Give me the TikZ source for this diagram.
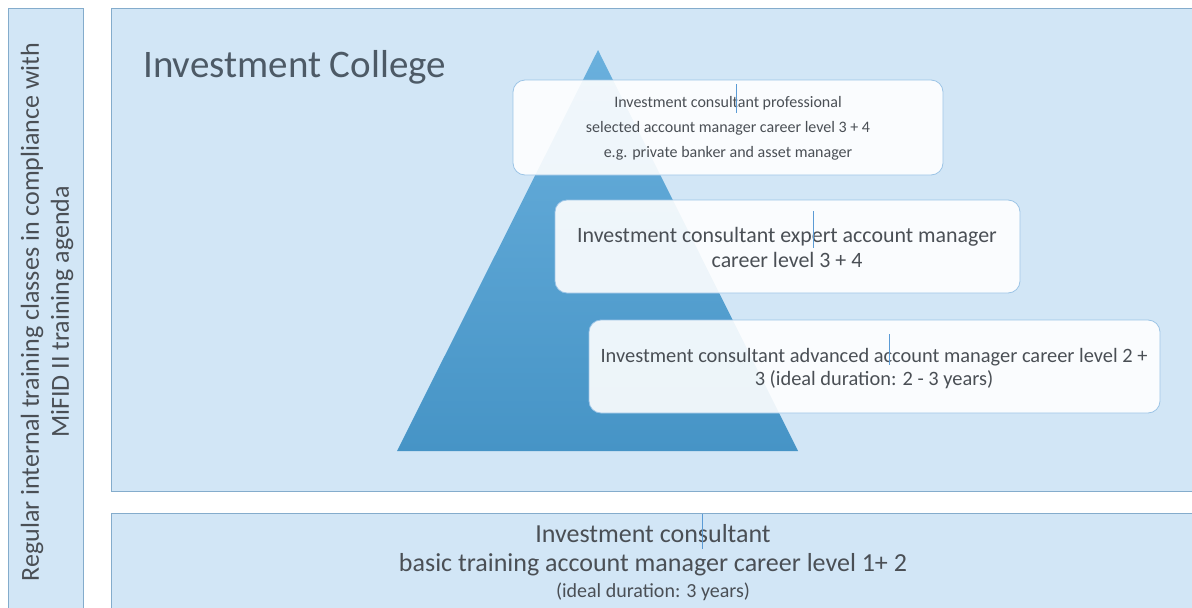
\documentclass[tikz,border=0pt]{standalone}
\usepackage{fontspec}
\setmainfont{Carlito}
\definecolor{panelfill}{HTML}{D2E6F6}
\definecolor{panelline}{HTML}{84ACCC}
\definecolor{cardline}{HTML}{9CC4E6}
\definecolor{txt}{HTML}{4A4F55}
\definecolor{titlec}{HTML}{4D5A66}
\definecolor{pyrtop}{HTML}{6AB0DD}
\definecolor{pyrmid}{HTML}{54A3D8}
\definecolor{pyrbot}{HTML}{4694C6}
\definecolor{cursorc}{HTML}{5B9BD5}
\tikzset{
  panel/.style={fill=panelfill, draw=panelline, line width=0.9pt},
  card/.style={fill=white, fill opacity=0.9, draw=cardline, line width=0.8pt, rounded corners=12pt},
  cursorline/.style={draw=cursorc, line width=0.7pt},
  lbl/.style={text=txt, align=center, inner sep=0pt},
}
\begin{document}
\begin{tikzpicture}[x=1pt,y=-1pt]
\useasboundingbox (0,0) rectangle (1192,608);
\clip (0,0) rectangle (1192,608);
\fill[white] (0,0) rectangle (1192,608);
% left panel
\draw[panel] (8,8) rectangle (83,630);
\node[lbl, rotate=90, font=\fontsize{26}{30}\selectfont] (side) at (47,312)
  {Regular internal training classes in compliance with\\MiFID II training agenda};
% main panel
\draw[panel] (111,8) rectangle (1210,491);
\node[lbl, anchor=base west, text=titlec, font=\fontsize{39}{44}\selectfont] (title) at (143,77) {Investment College};
% pyramid
\shade[top color=pyrtop, middle color=pyrmid, bottom color=pyrbot] (598,50) -- (798,451) -- (397,451) -- cycle;
% cards
\draw[card] (513,80) rectangle (943,175);
\node[lbl, font=\fontsize{16}{25}\selectfont] (c1) at (728,128)
  {Investment consultant professional\\selected account manager career level 3 + 4\\e.g. private banker and asset manager};
\draw[cursorline] (736,84) -- (736,113);
\draw[card] (555,200) rectangle (1020,293);
\node[lbl, font=\fontsize{21.9}{25}\selectfont] (c2) at (787,247)
  {Investment consultant expert account manager\\career level 3 + 4};
\draw[cursorline] (813,211) -- (813,248);
\draw[card] (589,320) rectangle (1160,413);
\node[lbl, font=\fontsize{20.4}{23}\selectfont] (c3) at (874,369)
  {Investment consultant advanced account manager career level 2 +\\3 (ideal duration: 2 - 3 years)};
\draw[cursorline] (889,334) -- (889,365);
% bottom panel
\draw[panel] (111,513) rectangle (1210,630);
\node[lbl, font=\fontsize{26}{31}\selectfont] (b1) at (653,534) {Investment consultant};
\node[lbl, font=\fontsize{26}{27}\selectfont] (b2) at (653,565) {basic training account manager career level 1+ 2};
\node[lbl, font=\fontsize{20}{20}\selectfont] (b3) at (653,592) {(ideal duration: 3 years)};
\draw[cursorline] (702,514) -- (702,549);
\end{tikzpicture}
\end{document}
